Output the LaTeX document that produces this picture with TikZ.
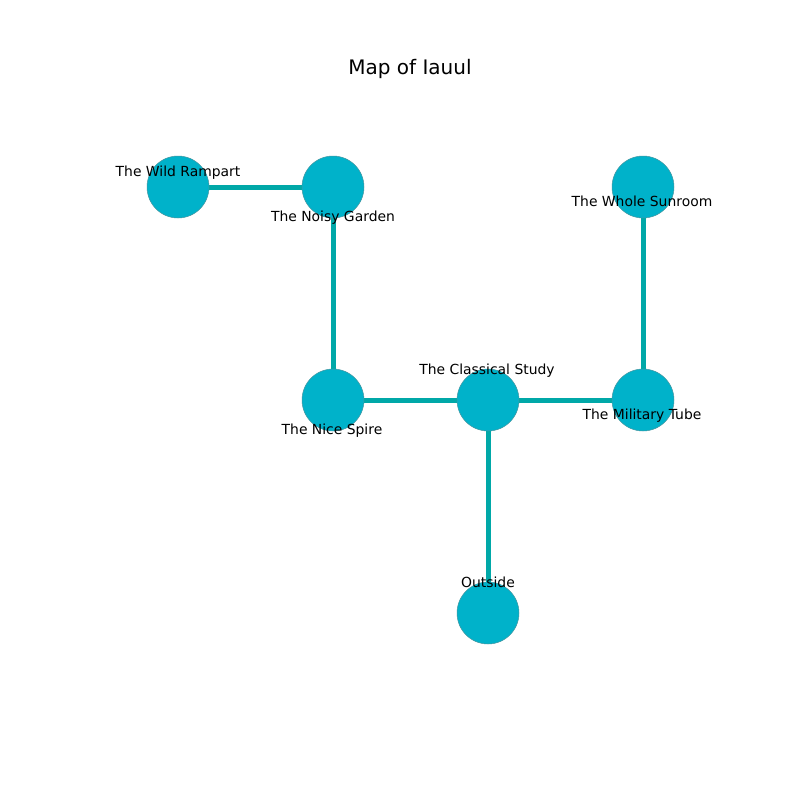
\documentclass[tikz,border=0pt]{standalone}
\usepackage{fontspec}
\setmainfont{DejaVu Sans}
\begin{document}
\begin{tikzpicture}[x=1pt,y=-1pt,
  room/.style={circle,draw=nodeedge,line width=0.5pt,fill=nodefill,minimum size=62pt,inner sep=0pt},
  link/.style={draw=edgecol,line width=5pt},
  lbl/.style={font=\fontsize{13.9}{16}\selectfont,inner sep=0pt,text depth=0pt,anchor=center},
  ttl/.style={font=\fontsize{20}{24}\selectfont,inner sep=0pt,text depth=0pt}]
\definecolor{nodefill}{RGB}{0,178,202}
\definecolor{nodeedge}{RGB}{70,150,160}
\definecolor{edgecol}{RGB}{0,168,168}
\useasboundingbox (0,0) rectangle (800,800);
\fill[white] (0,0) rectangle (800,800);
\node[ttl] (title) at (410,67) {Map of Iauul};
% rooms
\coordinate (pw) at (178,187);
\coordinate (pn) at (333,187);
\coordinate (ps) at (643,187);
\coordinate (pi) at (333,400);
\coordinate (pc) at (488,400);
\coordinate (pm) at (643,400);
\coordinate (po) at (488,613);
% corridors
\draw[link] (pw) -- (pn);
\draw[link] (pn) -- (pi);
\draw[link] (pi) -- (pc);
\draw[link] (pc) -- (pm);
\draw[link] (pm) -- (ps);
\draw[link] (pc) -- (po);
\node[room] (wild) at (pw) {};
\node[room] (noisy) at (pn) {};
\node[room] (sun) at (ps) {};
\node[room] (spire) at (pi) {};
\node[room] (study) at (pc) {};
\node[room] (tube) at (pm) {};
\node[room] (out) at (po) {};
% labels
\node[lbl] (lwild) at (178,171) {The Wild Rampart};
\node[lbl] (lnoisy) at (333,216) {The Noisy Garden};
\node[lbl] (lsun) at (642,201) {The Whole Sunroom};
\node[lbl] (lstudy) at (487,369) {The Classical Study};
\node[lbl] (lspire) at (332,429) {The Nice Spire};
\node[lbl] (ltube) at (642,414) {The Military Tube};
\node[lbl] (lout) at (488,582) {Outside};
\end{tikzpicture}
\end{document}
